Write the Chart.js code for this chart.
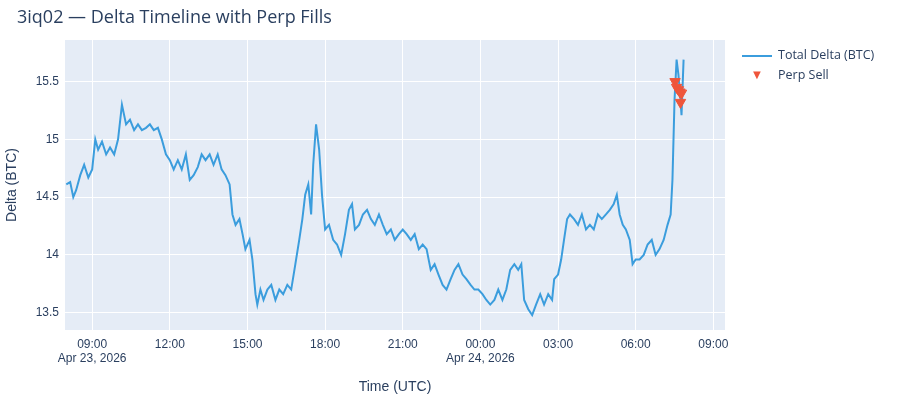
<!DOCTYPE html>
<html><head><meta charset="utf-8">
<script src="https://cdn.jsdelivr.net/npm/chart.js@4"></script>
<style>
body{margin:0;background:#fff;font-family:"Open Sans",sans-serif;color:#2a3f5f}
#wrap{position:relative;width:900px;height:400px}
#title{position:absolute;left:17px;top:4px;font-size:18px}
.lg{position:absolute;font-size:12.5px}
</style></head><body>
<div id="wrap">
<canvas id="chart" width="900" height="400"></canvas>
<div id="title">3iq02 — Delta Timeline with Perp Fills</div>
<div class="lg" style="left:742px;top:46px"><span style="display:inline-block;width:30px;height:2px;background:#3b9ddd;vertical-align:middle;margin-right:6px"></span>Total Delta (BTC)</div>
<div class="lg" style="left:742px;top:65px"><span style="display:inline-block;width:30px;text-align:center;color:#ef553b;font-size:13px;margin-right:6px">▼</span>Perp Sell</div>
</div>
<script>
"use strict";

// hours since Apr 23, 2026 00:00 UTC
const deltaTimes = [8.00,8.15,8.27,8.38,8.54,8.69,8.85,9.00,9.12,9.23,9.38,9.54,9.69,9.85,10.00,10.15,10.31,10.46,10.62,10.77,10.92,11.08,11.23,11.38,11.54,11.69,11.85,12.00,12.15,12.31,12.46,12.62,12.77,12.92,13.08,13.23,13.38,13.54,13.69,13.85,14.00,14.15,14.31,14.42,14.54,14.69,14.81,14.92,15.08,15.19,15.31,15.38,15.50,15.62,15.77,15.92,16.08,16.23,16.38,16.54,16.69,16.85,17.00,17.12,17.23,17.35,17.46,17.54,17.65,17.77,17.88,18.00,18.15,18.31,18.46,18.62,18.77,18.92,19.04,19.15,19.31,19.46,19.62,19.77,19.92,20.08,20.23,20.38,20.54,20.69,20.85,21.00,21.15,21.31,21.46,21.62,21.77,21.92,22.08,22.23,22.38,22.54,22.69,22.85,23.00,23.15,23.31,23.46,23.62,23.77,23.92,24.08,24.23,24.38,24.54,24.69,24.85,25.00,25.15,25.31,25.46,25.58,25.69,25.85,26.00,26.15,26.31,26.46,26.62,26.77,26.85,27.00,27.12,27.23,27.35,27.46,27.62,27.77,27.92,28.08,28.23,28.38,28.54,28.69,28.85,29.00,29.15,29.27,29.38,29.50,29.62,29.77,29.88,30.00,30.15,30.31,30.46,30.62,30.77,30.92,31.08,31.23,31.35,31.42,31.50,31.58,31.65,31.73,31.77,31.85];
const deltaValues = [14.61,14.63,14.50,14.56,14.69,14.78,14.67,14.74,15.00,14.91,14.98,14.87,14.93,14.87,15.00,15.30,15.13,15.17,15.08,15.13,15.08,15.10,15.13,15.08,15.10,15.00,14.87,14.82,14.74,14.82,14.74,14.87,14.65,14.69,14.76,14.87,14.82,14.87,14.78,14.87,14.74,14.69,14.61,14.35,14.26,14.31,14.18,14.05,14.13,13.96,13.66,13.57,13.70,13.61,13.70,13.74,13.61,13.70,13.66,13.74,13.70,13.92,14.13,14.31,14.52,14.61,14.35,14.78,15.13,14.91,14.52,14.22,14.26,14.13,14.09,14.00,14.18,14.39,14.44,14.22,14.26,14.35,14.39,14.31,14.26,14.35,14.26,14.18,14.22,14.13,14.18,14.22,14.18,14.13,14.18,14.05,14.09,14.05,13.87,13.92,13.83,13.74,13.70,13.79,13.87,13.92,13.83,13.79,13.74,13.70,13.70,13.66,13.61,13.57,13.61,13.70,13.61,13.70,13.87,13.92,13.87,13.92,13.61,13.53,13.48,13.57,13.66,13.57,13.66,13.61,13.79,13.83,13.96,14.13,14.31,14.35,14.31,14.26,14.35,14.22,14.26,14.22,14.35,14.31,14.35,14.39,14.44,14.52,14.35,14.26,14.22,14.13,13.92,13.96,13.96,14.00,14.09,14.13,14.00,14.05,14.13,14.26,14.35,14.65,15.34,15.69,15.56,15.34,15.21,15.69];
const sellTimes = [31.52,31.58,31.65,31.71,31.77,31.73];
const sellValues = [15.50,15.45,15.43,15.41,15.40,15.32];
const xTicks = [9,12,15,18,21,24,27,30,33];
const yTicks = [13.5,14,14.5,15,15.5];

function hourLabel(h) {
  const hh = String(Math.round(h) % 24).padStart(2, '0');
  const t = hh + ':00';
  if (h === 9) return [t, 'Apr 23, 2026'];
  if (h === 24) return [t, 'Apr 24, 2026'];
  return t;
}

const plotBg = {
  id: 'plotBg',
  beforeDraw(c) {
    const a = c.chartArea, ctx = c.ctx;
    ctx.save(); ctx.fillStyle = '#e5ecf6';
    ctx.fillRect(a.left, a.top, a.right - a.left, a.bottom - a.top);
    ctx.restore();
  }
};

new Chart(document.getElementById('chart'), {
  type: 'line',
  data: {
    datasets: [{
      label: 'Total Delta (BTC)',
      data: deltaTimes.map((t, i) => ({x: t, y: deltaValues[i]})),
      borderColor: '#3b9ddd', borderWidth: 2, pointRadius: 0, order: 2
    }, {
      type: 'scatter',
      label: 'Perp Sell',
      data: sellTimes.map((t, i) => ({x: t, y: sellValues[i]})),
      pointStyle: 'triangle', rotation: 180, pointRadius: 6,
      backgroundColor: '#ef553b', borderColor: '#ef553b', order: 1
    }]
  },
  plugins: [plotBg],
  options: {
    responsive: false, animation: false,
    layout: {padding: {top: 40, right: 175, left: 0, bottom: 0}},
    plugins: {legend: {display: false}, tooltip: {enabled: false}},
    scales: {
      x: {
        type: 'linear', min: 7.95, max: 33.45,
        afterBuildTicks: s => { s.ticks = xTicks.map(v => ({value: v})); },
        afterFit: s => { s.height = 70; },
        grid: {color: '#fff', drawTicks: true, tickColor: '#fff', tickLength: 4},
        border: {display: false},
        ticks: {color: '#2a3f5f', font: {size: 12}, maxRotation: 0, callback: v => hourLabel(v)},
        title: {display: true, text: 'Time (UTC)', color: '#2a3f5f', font: {size: 14}, padding: {top: 6}}
      },
      y: {
        min: 13.35, max: 15.86,
        afterBuildTicks: s => { s.ticks = yTicks.map(v => ({value: v})); },
        afterFit: s => { s.width = 65; },
        grid: {color: '#fff', drawTicks: false},
        border: {display: false},
        ticks: {color: '#2a3f5f', font: {size: 12}, padding: 6, callback: v => String(v)},
        title: {display: true, text: 'Delta (BTC)', color: '#2a3f5f', font: {size: 14}}
      }
    }
  }
});
</script>
</body></html>
